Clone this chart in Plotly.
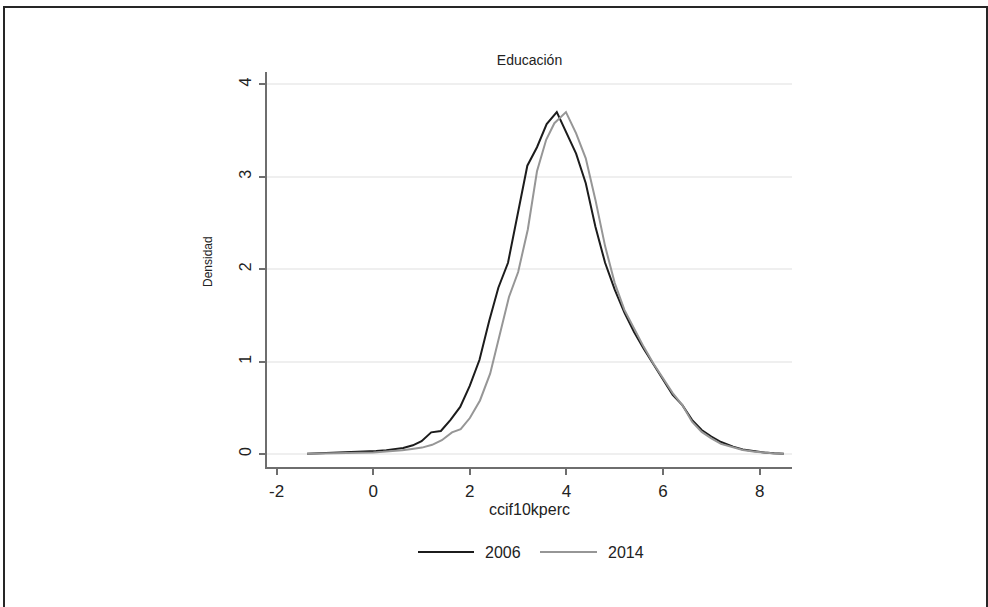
import plotly.graph_objects as go

# Kernel density estimates of ccif10kperc, one curve per survey year
years = ["2006", "2014"]

x_2006 = [-1.37, -1.17, -0.96, -0.76, -0.55, -0.35, -0.14, 0.06, 0.27, 0.47,
          0.62, 0.82, 1.00, 1.20, 1.40, 1.60, 1.80, 2.00, 2.20, 2.40,
          2.59, 2.79, 2.99, 3.19, 3.39, 3.59, 3.80, 4.00, 4.20, 4.40,
          4.60, 4.80, 5.00, 5.20, 5.40, 5.60, 5.80, 6.00, 6.20, 6.40,
          6.60, 6.80, 7.00, 7.20, 7.45, 7.65, 7.90, 8.10, 8.30, 8.50]
d_2006 = [0.004, 0.007, 0.010, 0.014, 0.018, 0.022, 0.027, 0.033, 0.042, 0.055,
          0.066, 0.095, 0.140, 0.235, 0.250, 0.370, 0.510, 0.740, 1.020, 1.440,
          1.800, 2.070, 2.590, 3.120, 3.320, 3.570, 3.700, 3.470, 3.250, 2.930,
          2.460, 2.070, 1.780, 1.530, 1.320, 1.140, 0.970, 0.810, 0.640, 0.530,
          0.370, 0.260, 0.190, 0.130, 0.080, 0.050, 0.030, 0.017, 0.009, 0.004]

x_2014 = [-1.37, -1.00, -0.60, -0.27, 0.00, 0.20, 0.41, 0.60, 0.80, 1.01,
          1.22, 1.42, 1.63, 1.81, 2.00, 2.21, 2.42, 2.62, 2.81, 3.00,
          3.20, 3.39, 3.58, 3.75, 3.99, 4.20, 4.40, 4.60, 4.80, 5.00,
          5.20, 5.40, 5.60, 5.80, 6.00, 6.20, 6.40, 6.60, 6.80, 7.00,
          7.20, 7.45, 7.65, 7.90, 8.10, 8.30, 8.50]
d_2014 = [0.003, 0.006, 0.009, 0.012, 0.018, 0.024, 0.030, 0.042, 0.055, 0.070,
          0.100, 0.150, 0.235, 0.270, 0.390, 0.580, 0.870, 1.310, 1.700, 1.970,
          2.430, 3.060, 3.400, 3.580, 3.700, 3.470, 3.200, 2.750, 2.250, 1.850,
          1.560, 1.360, 1.160, 0.980, 0.820, 0.660, 0.530, 0.350, 0.240, 0.170,
          0.110, 0.070, 0.045, 0.025, 0.014, 0.007, 0.003]

x_ticks = [-2, 0, 2, 4, 6, 8]
y_ticks = [0, 1, 2, 3, 4]

line_colors = ["#1c1c1c", "#969696"]
FONT = "Liberation Sans, Arial, sans-serif"
TEXT = "#222222"

W, H = 988, 607
L, R, T, B = 267, 196, 72, 140
PW, PH = W - L - R, H - T - B


def px_to_paper(px, py):
    return (px - L) / PW, (H - B - py) / PH


fig = go.Figure()
for name, xs, ys, col in zip(years, [x_2006, x_2014], [d_2006, d_2014], line_colors):
    fig.add_trace(go.Scatter(x=xs, y=ys, mode="lines", name=name,
                             line=dict(color=col, width=2), showlegend=False))

# Legend drawn as line samples with labels below the axis title
shapes = []
annotations = []
legend_items = [(418, 474, 483), (540, 597, 606)]
for (x0, x1, xt), name, col in zip(legend_items, years, line_colors):
    a0, ly = px_to_paper(x0, 552)
    a1, _ = px_to_paper(x1, 552)
    at, _ = px_to_paper(xt, 552)
    shapes.append(dict(type="line", xref="paper", yref="paper",
                       x0=a0, x1=a1, y0=ly, y1=ly,
                       line=dict(color=col, width=2)))
    annotations.append(dict(text=name, xref="paper", yref="paper", x=at, y=ly,
                            xanchor="left", yanchor="middle", showarrow=False,
                            font=dict(family=FONT, size=16, color=TEXT)))

# Outer frame around the graph region
f0x, f0y = px_to_paper(4, 640)
f1x, f1y = px_to_paper(987, 7)
shapes.append(dict(type="rect", xref="paper", yref="paper",
                   x0=f0x, x1=f1x, y0=f0y, y1=f1y,
                   line=dict(color="#262626", width=2), layer="below"))

# Vertical axis title
yt_x, yt_y = px_to_paper(208, 262)
annotations.append(dict(text="Densidad", xref="paper", yref="paper", x=yt_x, y=yt_y,
                        textangle=-90, xanchor="center", yanchor="middle", showarrow=False,
                        font=dict(family=FONT, size=12, color=TEXT)))

fig.update_layout(
    width=W, height=H,
    margin=dict(l=L, r=R, t=T, b=B),
    paper_bgcolor="white", plot_bgcolor="white",
    title=dict(text="Educación", x=(L + PW / 2) / W, y=1 - 60 / H,
               xanchor="center", yanchor="middle",
               font=dict(family=FONT, size=14, color=TEXT)),
    font=dict(family=FONT, color=TEXT),
    shapes=shapes, annotations=annotations,
    showlegend=False,
)
fig.update_xaxes(
    range=[-2.2, 8.67], tickvals=x_ticks, ticktext=[str(v) for v in x_ticks],
    showgrid=False, zeroline=False,
    showline=True, linecolor="#6e6e6e", linewidth=1.5,
    ticks="outside", ticklen=6, tickwidth=1.5, tickcolor="#6e6e6e",
    ticklabelstandoff=2,
    tickfont=dict(family=FONT, size=17, color=TEXT),
    title=dict(text="ccif10kperc", standoff=0,
               font=dict(family=FONT, size=16, color=TEXT)),
)
fig.update_yaxes(
    range=[-0.14, 4.134], tickvals=y_ticks, ticktext=[str(v) for v in y_ticks],
    tickangle=-90,
    showgrid=True, gridcolor="#efefef", gridwidth=1.5, zeroline=False,
    showline=True, linecolor="#6e6e6e", linewidth=1.5,
    ticks="outside", ticklen=6, tickwidth=1.5, tickcolor="#6e6e6e",
    ticklabelstandoff=2,
    tickfont=dict(family=FONT, size=16, color=TEXT),
)

fig.write_html("out.html")
